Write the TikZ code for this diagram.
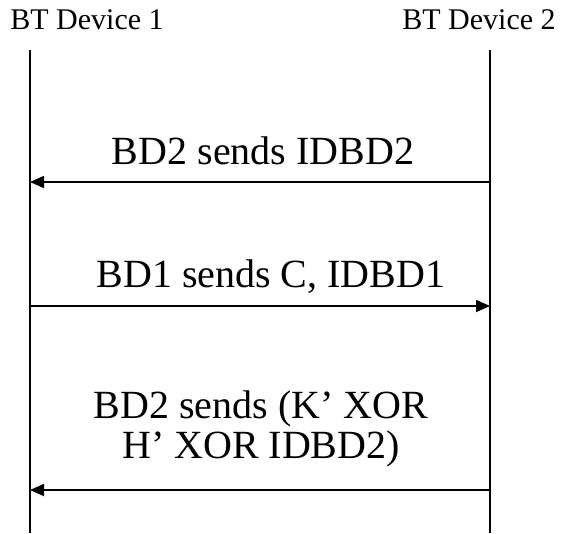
\documentclass[tikz,border=0pt]{standalone}
\usepackage{fontspec}
\setmainfont{Liberation Serif}
\usetikzlibrary{arrows.meta}
\begin{document}
\begin{tikzpicture}[x=1pt,y=-1pt,
  lifeline/.style={line width=1.8pt},
  msg/.style={line width=1.8pt,-{Triangle[length=14pt,width=12pt]}},
  title/.style={font=\fontsize{30}{34}\selectfont,inner sep=0pt,anchor=base},
  msglabel/.style={font=\fontsize{40}{40}\selectfont,align=center,inner sep=0pt,anchor=base}]
  \useasboundingbox (0,0) rectangle (561,533);
  % device headings
  \node[title] (d1) at (87,29) {BT Device 1};
  \node[title] (d2) at (479,29) {BT Device 2};
  % lifelines
  \coordinate (l1t) at (30,50);
  \coordinate (l1b) at (30,533);
  \coordinate (l2t) at (490,50);
  \coordinate (l2b) at (490,533);
  \draw[lifeline] (l1t) -- (l1b);
  \draw[lifeline] (l2t) -- (l2b);
  % message 1
  \coordinate (m1a) at (490,182);
  \coordinate (m1b) at (30,182);
  \draw[msg] (m1a) -- (m1b);
  \node[msglabel] (t1) at (263,164) {BD2 sends IDBD2};
  % message 2
  \coordinate (m2a) at (30,306);
  \coordinate (m2b) at (490,306);
  \draw[msg] (m2a) -- (m2b);
  \node[msglabel] (t2) at (271,287) {BD1 sends C, IDBD1};
  % message 3 (two-line label, base anchor sits on the last line)
  \coordinate (m3a) at (490,490);
  \coordinate (m3b) at (30,490);
  \draw[msg] (m3a) -- (m3b);
  \node[msglabel] (t3) at (261,458) {BD2 sends (K’ XOR\\H’ XOR IDBD2)};
\end{tikzpicture}
\end{document}
